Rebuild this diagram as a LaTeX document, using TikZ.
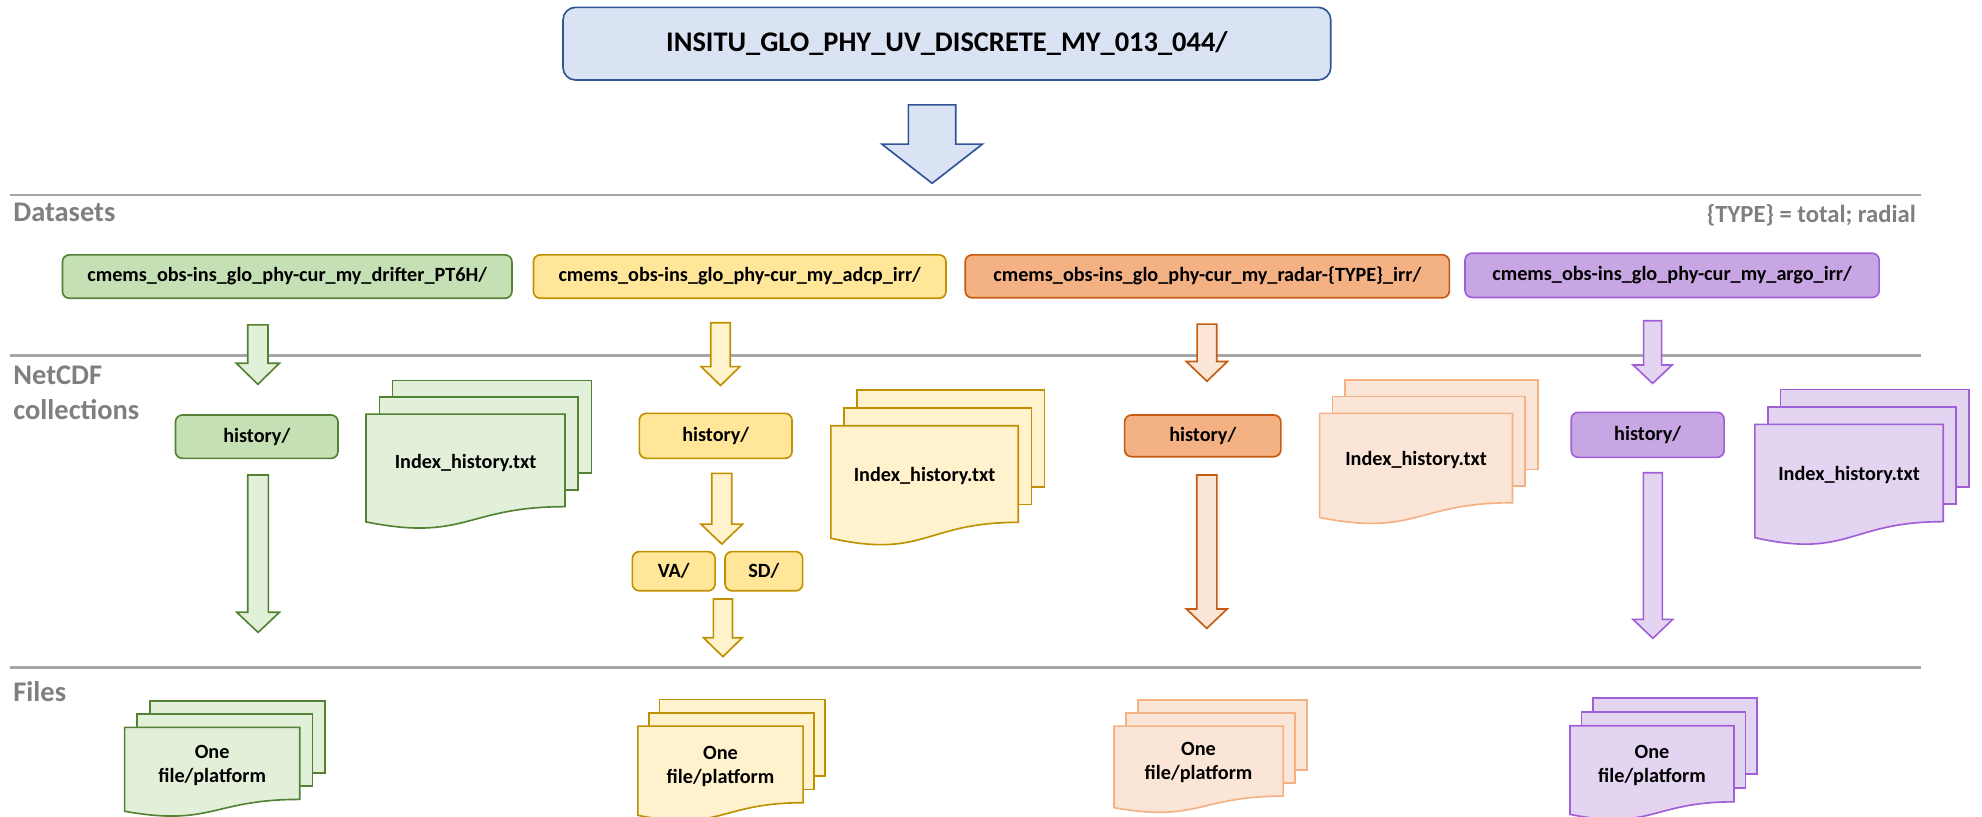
\documentclass[tikz,border=0pt]{standalone}
\usepackage{fontspec}
\setmainfont{Carlito}
\definecolor{bfill}{HTML}{DAE3F3}
\definecolor{bdraw}{HTML}{2F5597}
\definecolor{gdark}{HTML}{C5E0B4}
\definecolor{glight}{HTML}{E2F0D9}
\definecolor{gdraw}{HTML}{548235}
\definecolor{ydark}{HTML}{FFE699}
\definecolor{ylight}{HTML}{FFF2CC}
\definecolor{ydraw}{HTML}{BF9000}
\definecolor{odark}{HTML}{F4B183}
\definecolor{olight}{HTML}{FBE5D6}
\definecolor{odraw}{HTML}{C55A11}
\definecolor{odocdraw}{HTML}{F4B183}
\definecolor{pdark}{HTML}{C8A6E4}
\definecolor{plight}{HTML}{E3D4F2}
\definecolor{pdraw}{HTML}{A05ED7}
\definecolor{linegray}{HTML}{A6A6A6}
\definecolor{labgray}{HTML}{7F7F7F}
\tikzset{
  every node/.style={inner sep=0pt, outer sep=0pt},
  rbox/.style={rounded corners=5.5pt, line width=1.3pt, font=\bfseries\fontsize{16}{19}\selectfont, align=center},
  blk/.style={line width=1.3pt, line join=miter},
  docshape/.style={line width=1.3pt},
  doctext/.style={font=\bfseries\fontsize{16}{19}\selectfont, align=center},
  seclabel/.style={font=\bfseries\fontsize{22.5}{26}\selectfont, text=labgray, anchor=base west},
  sepline/.style={draw=linegray, line width=2.2pt},
}
% block arrow: style, cx, ytop, yheadstart, ytip, half shaft, half head
\newcommand\blkarrow[7]{%
  \draw[blk,#1] (#2-#6,#3) -- (#2+#6,#3) -- (#2+#6,#4) -- (#2+#7,#4) -- (#2,#5) -- (#2-#7,#4) -- (#2-#6,#4) -- cycle;}
% multi document: fill, draw, x, y, w, h, dx, dy, coordinate name
\newcommand\mdoc[9]{%
  \draw[docshape, fill=#1, draw=#2] (#3+2*#7, #4-2*#8) rectangle ++(#5, 0.802*#6);
  \draw[docshape, fill=#1, draw=#2] (#3+#7, #4-#8) rectangle ++(#5, 0.802*#6);
  \draw[docshape, fill=#1, draw=#2] (#3,#4) -- (#3+#5,#4) -- (#3+#5,#4+0.802*#6)
     .. controls (#3+0.5*#5,#4+0.802*#6) and (#3+0.5*#5,#4+1.1075*#6) .. (#3,#4+0.934*#6) -- cycle;
  \coordinate (#9) at (#3+0.5*#5, #4+0.42*#6);}
\begin{document}
\begin{tikzpicture}[x=1pt, y=-1pt]
\useasboundingbox (0,0) rectangle (1568,646);

% top box
\node[rbox, rounded corners=10pt, fill=bfill, draw=bdraw, minimum width=607.4pt, minimum height=57.5pt,
      font=\bfseries\fontsize{22.5}{26}\selectfont] (top) at (749.1,34.55) {INSITU\_GLO\_PHY\_UV\_DISCRETE\_MY\_013\_044/};
\blkarrow{fill=bfill, draw=bdraw}{737.4}{83}{114}{145}{18.75}{39.8}

% separator lines
\coordinate (l1a) at (8,154.3); \coordinate (l1b) at (1520,154.3);
\coordinate (l2a) at (8,281.4); \coordinate (l2b) at (1520,281.4);
\coordinate (l3a) at (8,528);   \coordinate (l3b) at (1520,528);
\draw[sepline] (l1a) -- (l1b);
\draw[sepline] (l2a) -- (l2b);
\draw[sepline] (l3a) -- (l3b);

% section labels
\node[seclabel] (lds) at (10.6,175.4) {Datasets};
\node[seclabel] (lnc1) at (10.6,303.8) {NetCDF};
\node[seclabel] (lnc2) at (10.6,331.7) {collections};
\node[seclabel] (lfi) at (10.6,555) {Files};
\node[font=\bfseries\fontsize{19.5}{23}\selectfont, text=labgray, anchor=base east] (ltype) at (1515.6,176) {\{TYPE\} = total; radial};

% dataset boxes
\node[rbox, fill=gdark, draw=gdraw, minimum width=355.6pt, minimum height=34.4pt] (dsG) at (227.2,218.8) {cmems\_obs-ins\_glo\_phy-cur\_my\_drifter\_PT6H/};
\node[rbox, fill=ydark, draw=ydraw, minimum width=326.4pt, minimum height=34.4pt] (dsY) at (585.2,218.8) {cmems\_obs-ins\_glo\_phy-cur\_my\_adcp\_irr/};
\node[rbox, fill=odark, draw=odraw, minimum width=383pt, minimum height=34pt] (dsO) at (955.1,218.6) {cmems\_obs-ins\_glo\_phy-cur\_my\_radar-\{TYPE\}\_irr/};
\node[rbox, fill=pdark, draw=pdraw, minimum width=327.6pt, minimum height=35pt] (dsP) at (1322.8,217.8) {cmems\_obs-ins\_glo\_phy-cur\_my\_argo\_irr/};

% arrows dataset -> history
\blkarrow{fill=glight, draw=gdraw}{204}{257}{287.4}{304}{8}{17}
\blkarrow{fill=ylight, draw=ydraw}{570}{255.3}{290}{305}{7.75}{15.4}
\blkarrow{fill=olight, draw=odraw}{954.8}{256.4}{286}{301.6}{7.75}{16.25}
\blkarrow{fill=plight, draw=pdraw}{1307.4}{253.7}{288.8}{303.3}{7.1}{15.4}

% history boxes
\node[rbox, fill=gdark, draw=gdraw, minimum width=128.6pt, minimum height=34.3pt] (hG) at (203.1,345.45) {history/};
\node[rbox, fill=ydark, draw=ydraw, minimum width=120.8pt, minimum height=35.6pt] (hY) at (566.2,344.8) {history/};
\node[rbox, fill=odark, draw=odraw, minimum width=123.6pt, minimum height=33pt] (hO) at (951.5,344.8) {history/};
\node[rbox, fill=pdark, draw=pdraw, minimum width=121pt, minimum height=35.6pt] (hP) at (1303.5,344) {history/};

% index documents
\mdoc{glight}{gdraw}{289.6}{327.6}{157.4}{91.3}{10.5}{13.3}{iGc}
\node[doctext] (iG) at (iGc) {Index\_history.txt};
\mdoc{ylight}{ydraw}{657.3}{336.8}{148.3}{95.3}{10.3}{14.1}{iYc}
\node[doctext] (iY) at (iYc) {Index\_history.txt};
\mdoc{olight}{odocdraw}{1044}{327}{152.5}{88.2}{10.1}{13.2}{iOc}
\node[doctext] (iO) at (iOc) {Index\_history.txt};
\mdoc{plight}{pdraw}{1388.3}{335.7}{149}{96}{10.2}{13.8}{iPc}
\node[doctext] (iP) at (iPc) {Index\_history.txt};

% yellow sub-folders
\blkarrow{fill=ylight, draw=ydraw}{571}{374.5}{414.6}{430.4}{7.95}{16.5}
\node[rbox, fill=ydark, draw=ydraw, minimum width=65.4pt, minimum height=31pt] (va) at (533,451.9) {VA/};
\node[rbox, fill=ydark, draw=ydraw, minimum width=61.4pt, minimum height=31pt] (sd) at (604.3,451.9) {SD/};
\blkarrow{fill=ylight, draw=ydraw}{571.9}{473.9}{504.5}{519.5}{7.55}{15.35}

% long arrows
\blkarrow{fill=glight, draw=gdraw}{204.2}{375.8}{484.4}{500.3}{8.15}{16.85}
\blkarrow{fill=olight, draw=odraw}{954.7}{375.8}{481.8}{497.1}{7.95}{16.1}
\blkarrow{fill=plight, draw=pdraw}{1307.6}{374}{490}{505}{7.5}{15.7}

% files documents
\mdoc{glight}{gdraw}{98.6}{575.4}{138.5}{71.1}{10}{10.4}{fGc}
\node[doctext] (fG) at (fGc) {One\\file/platform};
\mdoc{ylight}{ydraw}{504.6}{574.4}{130.8}{75.6}{8.6}{10.5}{fYc}
\node[doctext] (fY) at (fYc) {One\\file/platform};
\mdoc{olight}{odocdraw}{881.3}{574.4}{133.8}{69.1}{9.4}{10.3}{fOc}
\node[doctext] (fO) at (fOc) {One\\file/platform};
\mdoc{plight}{pdraw}{1242}{574.1}{129.8}{75.1}{9}{11}{fPc}
\node[doctext] (fP) at (fPc) {One\\file/platform};
\end{tikzpicture}
\end{document}
